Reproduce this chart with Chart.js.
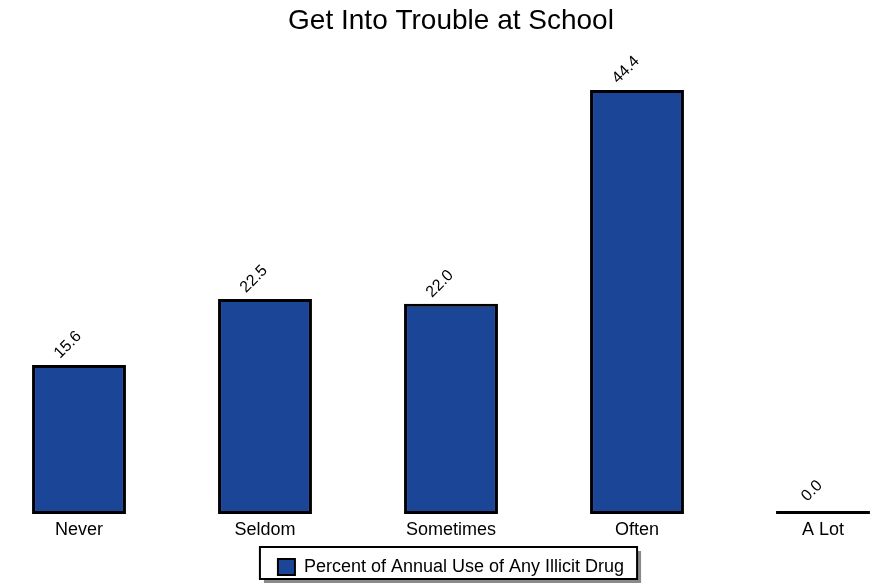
<!DOCTYPE html>
<html>
<head>
<meta charset="utf-8">
<script src="https://cdn.jsdelivr.net/npm/chart.js@4/dist/chart.umd.min.js"></script>
<style>
  html, body { margin: 0; padding: 0; background: #fff; overflow: hidden; width: 878px; height: 588px; }
  #wrap { position: absolute; left: -14px; top: 0; width: 930px; height: 586px; }
</style>
</head>
<body>
<div id="wrap"><canvas id="chart" width="930" height="586"></canvas></div>
<script>
document.addEventListener('DOMContentLoaded', () => {

  const chartTitle = 'Get Into Trouble at School';
  const categories = ['Never', 'Seldom', 'Sometimes', 'Often', 'A Lot'];
  const useValues = [15.6, 22.5, 22.0, 44.4, 0.0];
  const seriesName = 'Percent of Annual Use of Any Illicit Drug';

  const FONT = 'Arial, "Liberation Sans", sans-serif';

  // rotated value labels above each bar
  const valueLabels = {
    id: 'valueLabels',
    afterDatasetsDraw(chart) {
      const ctx = chart.ctx;
      const meta = chart.getDatasetMeta(0);
      ctx.save();
      ctx.font = '16px ' + FONT;
      ctx.fillStyle = '#000';
      ctx.textAlign = 'center';
      ctx.textBaseline = 'middle';
      meta.data.forEach((bar, i) => {
        ctx.save();
        ctx.translate(bar.x - 11, bar.y - 20);
        ctx.rotate(-Math.PI / 4);
        ctx.fillText(useValues[i].toFixed(1), 0, 0);
        ctx.restore();
      });
      ctx.restore();
    }
  };

  // framed legend with a drop shadow
  const legendFrame = {
    id: 'legendFrame',
    beforeDraw(chart) {
      const hb = chart.legend && chart.legend.legendHitBoxes && chart.legend.legendHitBoxes[0];
      if (!hb) return;
      const ctx = chart.ctx;
      const mid = hb.top + hb.height / 2;
      const x = hb.left - 18, w = hb.width + 31;
      const y = mid - 20, h = 32;
      ctx.save();
      ctx.fillStyle = '#8a8a8a';
      ctx.fillRect(x + 4, y + 4, w, h);
      ctx.fillStyle = '#fff';
      ctx.fillRect(x, y, w, h);
      ctx.strokeStyle = '#000';
      ctx.lineWidth = 2;
      ctx.strokeRect(x, y, w, h);
      ctx.restore();
    }
  };

  const data = {
    labels: categories,
    datasets: [{
      label: seriesName,
      data: useValues,
      backgroundColor: '#1b4698',
      borderColor: '#000',
      borderWidth: 3,
      borderSkipped: false,
      barPercentage: 0.505,
      categoryPercentage: 1.0,
      minBarLength: 3
    }]
  };

  const config = {
    type: 'bar',
    data: data,
    options: {
      responsive: false,
      animation: false,
      layout: { padding: 0 },
      plugins: {
        title: {
          display: true,
          text: chartTitle,
          color: '#000',
          font: { family: FONT, size: 28, weight: 'normal' },
          padding: { top: 4, bottom: 6 }
        },
        legend: {
          position: 'bottom',
          labels: {
            color: '#000',
            font: { family: FONT, size: 18 },
            boxWidth: 17,
            boxHeight: 16,
            padding: 11.5,
            generateLabels(chart) {
              const items = Chart.defaults.plugins.legend.labels.generateLabels(chart);
              items.forEach(it => { it.lineWidth = 2; });
              return items;
            }
          }
        },
        tooltip: { enabled: false }
      },
      scales: {
        x: {
          grid: { display: false, drawTicks: false },
          border: { display: false },
          ticks: { color: '#000', padding: 5.5, font: { family: FONT, size: 18 } }
        },
        y: {
          display: false,
          min: 0,
          max: 49.25
        }
      }
    },
    plugins: [legendFrame, valueLabels]
  };

  const myChart = new Chart(document.getElementById('chart'), config);
});
</script>
</body>
</html>
